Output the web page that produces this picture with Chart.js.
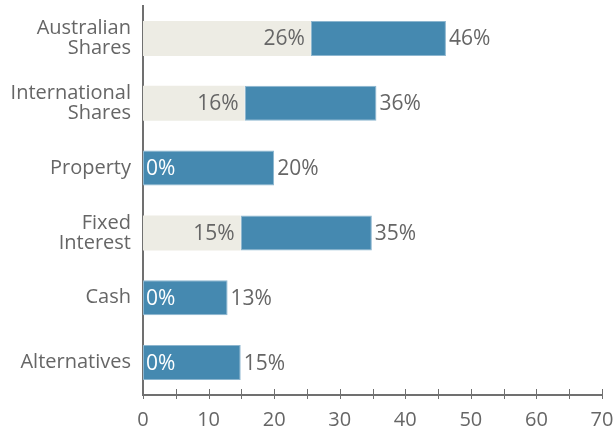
<!DOCTYPE html>
<html>
<head>
<meta charset="utf-8">
<script src="https://cdn.jsdelivr.net/npm/chart.js@4"></script>
<style>
  html, body { margin: 0; padding: 0; background: #fff; }
  #wrap { width: 616px; height: 427px; }
</style>
</head>
<body>
<div id="wrap"><canvas id="chart"></canvas></div>
<script>
const categories = [["Australian", "Shares"], ["International", "Shares"], "Property", ["Fixed", "Interest"], "Cash", "Alternatives"];
const lowValues = [25.6, 15.5, 0, 14.9, 0, 0];
const highValues = [46.2, 35.6, 20, 34.9, 12.9, 14.9];
const xMin = 0;
const xMax = 70;
const xStep = 5;

const textColor = "#666666";
const axisColor = "#707070";
const FONT = "'Open Sans'";

// value labels at the ends of the bars
const valueLabels = {
  id: "valueLabels",
  afterDatasetsDraw(chart) {
    const ctx = chart.ctx;
    const x = chart.scales.x;
    const metaBlue = chart.getDatasetMeta(1);
    ctx.save();
    ctx.font = "21px " + FONT;
    ctx.textBaseline = "middle";
    metaBlue.data.forEach(function (bar, i) {
      const lo = lowValues[i];
      const hi = highValues[i];
      if (lo > 0) {
        ctx.fillStyle = textColor;
        ctx.textAlign = "right";
        ctx.fillText(Math.round(lo) + "%", x.getPixelForValue(lo) - 6, bar.y + 1);
      } else {
        ctx.fillStyle = "#ffffff";
        ctx.textAlign = "left";
        ctx.fillText("0%", x.getPixelForValue(0) + 3, bar.y + 1);
      }
      ctx.fillStyle = textColor;
      ctx.textAlign = "left";
      ctx.fillText(Math.round(hi) + "%", x.getPixelForValue(hi) + 3, bar.y + 1);
    });
    ctx.restore();
  },
};

// tick marks crossing the x axis line
const crossTicks = {
  id: "crossTicks",
  afterDraw(chart) {
    const ctx = chart.ctx;
    const x = chart.scales.x;
    const yb = chart.chartArea.bottom;
    ctx.save();
    ctx.strokeStyle = axisColor;
    ctx.lineWidth = 1;
    x.ticks.forEach(function (t, i) {
      const px = Math.round(x.getPixelForTick(i)) + 0.5;
      ctx.beginPath();
      ctx.moveTo(px, yb - 6);
      ctx.lineTo(px, yb + 4);
      ctx.stroke();
    });
    ctx.restore();
  },
};

function noPadding(scale) {
  scale.paddingTop = 0;
  scale.paddingBottom = 0;
  scale.paddingLeft = 0;
  scale.paddingRight = 0;
}

new Chart(document.getElementById("chart"), {
  type: "bar",
  data: {
    labels: categories,
    datasets: [
      {
        label: "low",
        data: lowValues.map(function (v) { return [0, v]; }),
        backgroundColor: "#edece4",
        borderWidth: 0,
        grouped: false,
        barPercentage: 0.54,
        categoryPercentage: 1,
      },
      {
        label: "high",
        data: lowValues.map(function (v, i) { return [v, highValues[i]]; }),
        backgroundColor: "#4589b0",
        borderColor: "#8db6cf",
        borderWidth: 1,
        borderSkipped: false,
        grouped: false,
        barPercentage: 0.54,
        categoryPercentage: 1,
      },
    ],
  },
  options: {
    indexAxis: "y",
    responsive: true,
    maintainAspectRatio: false,
    animation: false,
    layout: { autoPadding: false, padding: { top: 6, right: 14, left: 0, bottom: 0 } },
    plugins: {
      legend: { display: false },
      tooltip: { enabled: false },
    },
    scales: {
      x: {
        min: xMin,
        max: xMax,
        grid: { display: false, drawTicks: false },
        border: { display: true, color: axisColor, width: 2 },
        ticks: {
          stepSize: xStep,
          autoSkip: false,
          maxRotation: 0,
          padding: 13,
          color: textColor,
          font: { family: FONT, size: 20 },
          callback: function (v) { return v % 10 === 0 ? v : ""; },
        },
        afterFit: function (scale) { scale.height = 32; noPadding(scale); },
      },
      y: {
        grid: { display: false, drawTicks: false },
        border: { display: true, color: axisColor, width: 2 },
        ticks: {
          padding: 12,
          color: textColor,
          font: { family: FONT, size: 20, lineHeight: 1.0 },
        },
        afterFit: function (scale) { scale.width = 143; noPadding(scale); },
      },
    },
  },
  plugins: [valueLabels, crossTicks],
});
</script>
</body>
</html>
